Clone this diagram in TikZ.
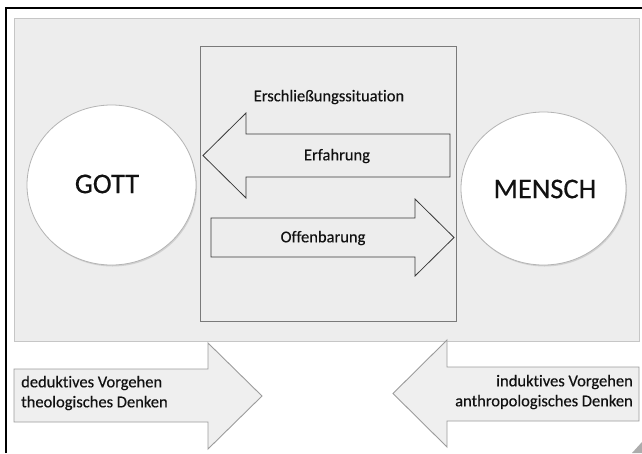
\documentclass[tikz,border=0pt]{standalone}
\usepackage{fontspec}
\setmainfont{Carlito}[Ligatures=NoCommon, FakeBold=0.35]
\usetikzlibrary{shadows,shapes.geometric}
\definecolor{panelfill}{HTML}{EDEDED}
\definecolor{panelline}{HTML}{C6C6C6}
\definecolor{innerline}{HTML}{7A7A7A}
\definecolor{arrowline}{HTML}{3A3A3A}
\definecolor{botfill}{HTML}{EFEFEF}
\definecolor{botline}{HTML}{9C9C9C}
\definecolor{circline}{HTML}{B4B4B4}
\definecolor{txt}{HTML}{111111}
\tikzset{
  panelbox/.style={fill=panelfill, draw=panelline, line width=1pt},
  innerbox/.style={fill=panelfill, draw=innerline, line width=0.9pt},
  midarrow/.style={fill=panelfill, draw=arrowline, line width=0.8pt, line join=miter},
  botarrow/.style={fill=botfill, draw=botline, line width=0.9pt, line join=miter},
  circ/.style={ellipse, fill=white, draw=circline, line width=0.8pt, inner sep=0pt,
    drop shadow={opacity=0.25, shadow xshift=1pt, shadow yshift=-1.5pt}},
  bigtxt/.style={font=\fontsize{28.5}{32}\selectfont, text=txt, inner sep=0pt},
  lbl/.style={font=\fontsize{16.5}{20}\selectfont, text=txt, inner sep=0pt}
}
\begin{document}
\begin{tikzpicture}[x=1pt,y=-1pt]
\useasboundingbox (0,0) rectangle (642,453);
\fill[white] (0,0) rectangle (642,453);
% outer frame
\draw[line width=2pt] (6,453) -- (6,8) -- (642,8);
% grey panel
\draw[panelbox] (14,18) rectangle (639,341);
% inner rectangle
\draw[innerbox] (200,46) rectangle (456,321);
% circles
\node[circ, minimum width=169pt, minimum height=160pt] (gott) at (111.5,185) {};
\node[circ, minimum width=165pt, minimum height=153pt] (mensch) at (543.5,188.5) {};
\node[bigtxt] (gotttxt) at (107,184) {GOTT};
\node[bigtxt] (menschtxt) at (545,189) {MENSCH};
% middle arrows
\draw[midarrow] (450,134) -- (246,134) -- (246,113) -- (203,155.5) -- (246,198) -- (246,177) -- (450,177) -- cycle;
\draw[midarrow] (211,218) -- (415,218) -- (415,199) -- (454,237.5) -- (415,276) -- (415,257) -- (211,257) -- cycle;
\node[lbl] (situ) at (329,97) {Erschließungssituation};
\node[lbl] (erf) at (337,156) {Erfahrung};
\node[lbl] (off) at (323,238) {Offenbarung};
% bottom arrows
\draw[botarrow] (14,369) -- (208,369) -- (208,343) -- (262,396) -- (208,449) -- (208,422) -- (14,422) -- cycle;
\draw[botarrow] (639,367) -- (447,367) -- (447,340) -- (393,393.5) -- (447,447) -- (447,421) -- (639,421) -- cycle;
\node[lbl, anchor=west, align=left] (ded) at (21,393) {deduktives Vorgehen\\theologisches Denken};
\node[lbl, anchor=east, align=right] (ind) at (633,392) {induktives Vorgehen\\anthropologisches Denken};
% corner mark
\fill[gray!65] (632,453) -- (642,442) -- (642,453) -- cycle;
\end{tikzpicture}
\end{document}
